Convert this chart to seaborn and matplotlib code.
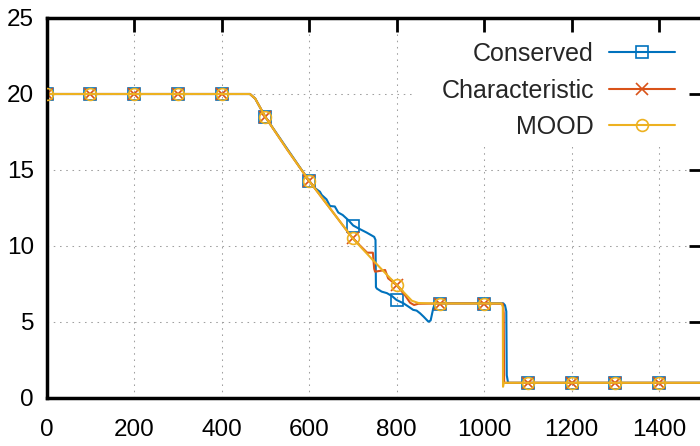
import matplotlib
matplotlib.use('Agg')
import matplotlib.pyplot as plt
from matplotlib.lines import Line2D
from matplotlib.patches import Rectangle
import seaborn as sns

# ---------------- data ----------------
labels = ['Conserved', 'Characteristic', 'MOOD']
colors = ['#0072BD', '#D95319', '#EDB120']
markers = ['s', 'x', 'o']

cons_x = [0, 465, 477, 500, 550, 600, 614, 625, 629, 640, 648, 659, 667, 677, 690, 701,
          713, 732, 749, 752, 753, 755, 766, 778, 790, 800, 816, 828, 838, 846, 854, 862,
          873, 878, 884, 888, 950, 1000, 1044, 1048, 1051, 1052, 1055, 1500]
cons_y = [20, 20, 19.7, 18.5, 16.4, 14.3, 13.8, 13.57, 13.36, 13.07, 12.63, 12.6, 12.2, 12.04, 11.7, 11.35,
          11.16, 10.88, 10.6, 10.4, 7.3, 7.2, 7.0, 6.9, 6.7, 6.45, 6.23, 6.0, 5.8, 5.75, 5.57, 5.35,
          5.02, 5.1, 5.9, 6.23, 6.23, 6.23, 6.23, 6.1, 5.7, 1.5, 1.0, 1.0]

char_x = [0, 465, 477, 500, 550, 600, 650, 700, 733, 746, 749, 751, 774, 781, 800, 819,
          831, 840, 850, 900, 1000, 1043, 1045, 1046, 1500]
char_y = [20, 20, 19.7, 18.5, 16.35, 14.3, 12.4, 10.5, 9.56, 9.56, 8.5, 8.31, 8.42, 7.87, 7.43, 6.78,
          6.27, 6.12, 6.2, 6.22, 6.22, 6.2, 5.6, 1.0, 1.0]

mood_x = [0, 465, 477, 500, 550, 600, 650, 700, 750, 800, 820, 835, 850, 880, 1000,
          1040, 1043, 1043.5, 1045, 1500]
mood_y = [20, 20, 19.7, 18.5, 16.35, 14.3, 12.4, 10.5, 8.95, 7.45, 6.85, 6.4, 6.25, 6.22, 6.22,
          6.22, 6.0, 0.74, 1.0, 1.0]

mark_x = [0, 100, 200, 300, 400, 500, 600, 700, 800, 900, 1000, 1100, 1200, 1300, 1400]
cons_mark_y = [20, 20, 20, 20, 20, 18.5, 14.3, 11.3, 6.45, 6.2, 6.2, 1, 1, 1, 1]
char_mark_y = [20, 20, 20, 20, 20, 18.5, 14.3, 10.5, 7.45, 6.2, 6.2, 1, 1, 1, 1]
mood_mark_y = [20, 20, 20, 20, 20, 18.5, 14.3, 10.5, 7.45, 6.2, 6.2, 1, 1, 1, 1]

x_ticks = [0, 200, 400, 600, 800, 1000, 1200, 1400]
y_ticks = [0, 5, 10, 15, 20, 25]

# ---------------- style ----------------
sns.set_style('white')
plt.rcParams['font.family'] = ['Liberation Sans Narrow', 'Liberation Sans', 'DejaVu Sans']

fig = plt.figure(figsize=(7.0, 4.46), dpi=100)
W, H = 700, 446
left_px, right_px, bottom_px, top_px = 46.5, 702.75, 398, 18
ax = fig.add_axes([left_px / W, (H - bottom_px) / H,
                   (right_px - left_px) / W, (bottom_px - top_px) / H])

series = [(cons_x, cons_y, cons_mark_y), (char_x, char_y, char_mark_y), (mood_x, mood_y, mood_mark_y)]
msizes = [8.5, 8.0, 8.5]
z = 2.0
for (lx, ly, my), c, m, ms in zip(series, colors, markers, msizes):
    sns.lineplot(x=lx, y=ly, sort=False, estimator=None, color=c, lw=1.5,
                 ax=ax, zorder=z, legend=False)
    sns.lineplot(x=mark_x, y=my, sort=False, estimator=None, color=c, linestyle='',
                 marker=m, markersize=ms, markerfacecolor='none', markeredgecolor=c,
                 markeredgewidth=1.2, ax=ax, zorder=z + 0.1, legend=False)
    z += 0.2

ax.set_xlim(0, 1500)
ax.set_ylim(0, 25)
ax.set_xticks(x_ticks)
ax.set_yticks(y_ticks)
ax.set_xlabel('')
ax.set_ylabel('')

ax.set_axisbelow(True)
ax.grid(True, color='#a0a0a0', lw=0.75, linestyle=(0, (1.5, 4.5)))
for s in ax.spines.values():
    s.set_linewidth(2.5)
    s.set_color('black')
ax.tick_params(direction='in', length=10, width=2, top=True, right=True,
               color='black', labelcolor='black')
ax.tick_params(axis='x', labelsize=17.5, pad=15)
ax.tick_params(axis='y', labelsize=17.5, pad=9)

# white key area (hides grid behind the key, like gnuplot)
ax.add_patch(Rectangle((0.557, 0.66), 0.421, 0.298, transform=ax.transAxes,
                       facecolor='white', edgecolor='none', zorder=0.8))

handles = [Line2D([], [], color=c, lw=1.5, marker=m, markersize=ms, markerfacecolor='none',
                  markeredgecolor=c, markeredgewidth=1.2)
           for c, m, ms in zip(colors, markers, msizes)]
leg = fig.legend(handles, labels, loc='upper right', bbox_to_anchor=(675 / W, 1 - 42 / H),
                 bbox_transform=fig.transFigure, frameon=False, markerfirst=False,
                 fontsize=18, handlelength=2.64, handletextpad=0.6,
                 labelspacing=0.5, borderpad=0, borderaxespad=0)

fig.savefig('out.png', dpi=100)
